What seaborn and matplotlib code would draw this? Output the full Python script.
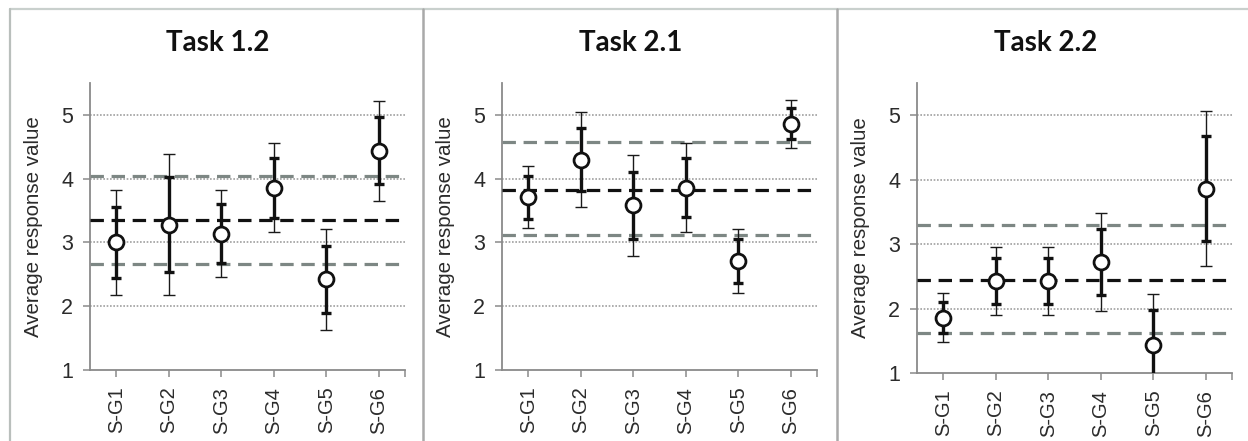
import numpy as np
import pandas as pd
import matplotlib
matplotlib.use("Agg")
import matplotlib.pyplot as plt
from matplotlib.lines import Line2D
import seaborn as sns

# ---------------- data ----------------
groups = ["S-G1", "S-G2", "S-G3", "S-G4", "S-G5", "S-G6"]
titles = ["Task 1.2", "Task 2.1", "Task 2.2"]

means_t12 = [3.00, 3.28, 3.14, 3.86, 2.42, 4.44]
inner_t12 = [0.55, 0.745, 0.465, 0.47, 0.53, 0.525]
outer_t12 = [0.82, 1.11, 0.68, 0.695, 0.79, 0.785]
lines_t12 = [3.35, 4.04, 2.66]   # mean, upper, lower

means_t21 = [3.71, 4.30, 3.58, 3.86, 2.71, 4.86]
inner_t21 = [0.335, 0.50, 0.53, 0.465, 0.34, 0.245]
outer_t21 = [0.49, 0.75, 0.79, 0.70, 0.50, 0.38]
lines_t21 = [3.82, 4.57, 3.11]

means_t22 = [1.86, 2.43, 2.43, 2.72, 1.44, 3.86]
inner_t22 = [0.245, 0.36, 0.36, 0.51, 0.53, 0.81]
outer_t22 = [0.38, 0.53, 0.53, 0.76, 0.78, 1.205]
lines_t22 = [2.45, 3.29, 1.62]

yticks = [1, 2, 3, 4, 5]

panels = [
    (means_t12, inner_t12, outer_t12, lines_t12),
    (means_t21, inner_t21, outer_t21, lines_t21),
    (means_t22, inner_t22, outer_t22, lines_t22),
]

# ---------------- style ----------------
sns.set_theme(style="white")
plt.rcParams["font.family"] = ["Liberation Sans", "DejaVu Sans"]

W, H = 1248, 441
fig = plt.figure(figsize=(W / 100, H / 100), dpi=100)

ax_left_px = [90, 502, 917]
ax_bottom_px = [370, 370, 373]
ax_top_px = 83
ax_w_px = 315
title_x_px = [218, 631, 1046]

axis_col = "#8a8a8a"
grid_col = "#a0a0a0"
gray_dash = "#7d8784"
txt_col = "#2b2b2b"

for i, (means, inner, outer, hl) in enumerate(panels):
    left = ax_left_px[i] / W
    bottom = 1 - ax_bottom_px[i] / H
    height = (ax_bottom_px[i] - ax_top_px) / H
    ax = fig.add_axes([left, bottom, ax_w_px / W, height])

    df = pd.DataFrame({"group": groups, "mean": means,
                       "inner": inner, "outer": outer})
    df["pos"] = np.arange(len(groups))

    # horizontal reference lines
    ax.axhline(hl[1], color=gray_dash, lw=2.3, dashes=(4.2, 2.4), zorder=2)
    ax.axhline(hl[2], color=gray_dash, lw=2.3, dashes=(4.2, 2.4), zorder=2)
    ax.axhline(hl[0], color="#111111", lw=2.3, dashes=(4.2, 2.4), zorder=3)

    # outer (thin) error bars
    ax.errorbar(df["pos"], df["mean"], yerr=df["outer"], fmt="none",
                ecolor="#1a1a1a", elinewidth=1.0, capsize=4.5, capthick=1.0,
                zorder=4)
    # inner (thick) error bars
    ax.errorbar(df["pos"], df["mean"], yerr=df["inner"], fmt="none",
                ecolor="#111111", elinewidth=2.4, capsize=3.5, capthick=2.4,
                zorder=4)

    sns.scatterplot(data=df, x="pos", y="mean", ax=ax, s=115,
                    facecolor="white", edgecolor="#111111", linewidth=2.0,
                    zorder=6, legend=False)

    ax.set_xlim(-0.5, len(groups) - 0.5)
    ax.set_ylim(1, 5.5)
    ax.set_xticks(df["pos"])
    ax.set_xticklabels(groups, rotation=90, color=txt_col, fontsize=14.5)
    ax.set_yticks(yticks)
    ax.set_yticklabels([str(t) for t in yticks], color=txt_col, fontsize=15.5)
    ax.set_xlabel("")
    ax.set_ylabel("Average response value", fontsize=14.8, color=txt_col)
    ax.yaxis.set_label_coords(-0.150, 0.5)

    ax.set_xticks([len(groups) - 0.5], minor=True)
    ax.tick_params(axis="x", which="both", direction="out", length=5,
                   width=1.1, color=axis_col, pad=7, bottom=True)
    ax.tick_params(axis="y", direction="out", length=5, width=1.1,
                   color=axis_col, pad=7, left=True)

    for s in ["top", "right"]:
        ax.spines[s].set_visible(False)
    for s in ["left", "bottom"]:
        ax.spines[s].set_color(axis_col)
        ax.spines[s].set_linewidth(1.3)

    for g in [2, 3, 4, 5]:
        ax.axhline(g, color=grid_col, lw=1.2, ls=(0, (1, 1)), zorder=1)

    fig.text(title_x_px[i] / W, 1 - 43 / H, titles[i], ha="center",
             va="center", fontsize=20, fontweight="bold",
             family=["Lato", "DejaVu Sans"], color="#111111")

# panel frame
def fig_line(x0, y0, x1, y1, color, lw):
    fig.add_artist(Line2D([x0 / W, x1 / W], [1 - y0 / H, 1 - y1 / H],
                          transform=fig.transFigure, color=color, lw=lw))

fig_line(10, 9, W, 9, "#c9d0cd", 1.6)
fig_line(10, 9, 10, H, "#b9bfbc", 1.6)
fig_line(423, 9, 423, H, "#a9a9a9", 1.8)
fig_line(837, 9, 837, H, "#a9a9a9", 1.8)

fig.savefig("out.png", dpi=100)
